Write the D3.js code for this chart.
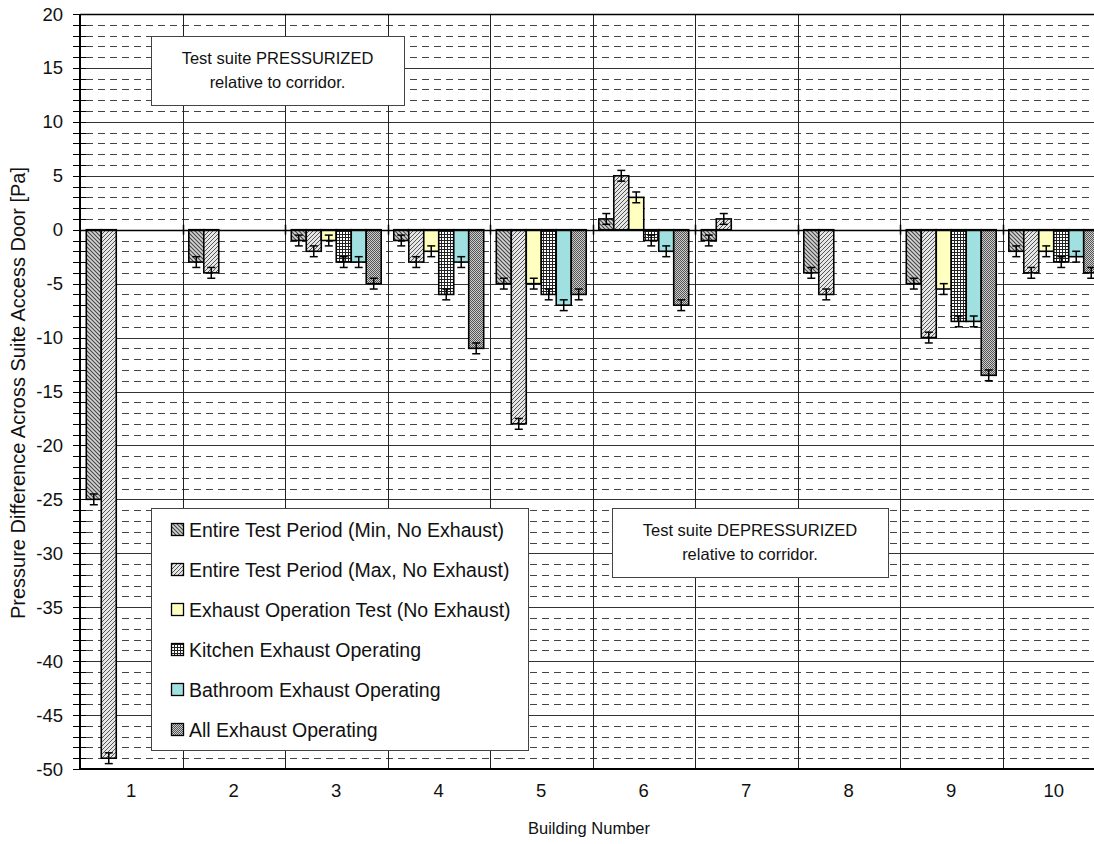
<!DOCTYPE html>
<html>
<head>
<meta charset="utf-8">
<script src="https://cdn.jsdelivr.net/npm/d3@7"></script>
<style>
  body { margin: 0; background: #fff; }
  svg { display: block; font-family: "Liberation Sans", Arial, sans-serif; }
</style>
</head>
<body>
<svg id="chart"></svg>
<script>
// Data
const buildings = ["1", "2", "3", "4", "5", "6", "7", "8", "9", "10"];
const seriesNames = [
    "Entire Test Period (Min, No Exhaust)",
    "Entire Test Period (Max, No Exhaust)",
    "Exhaust Operation Test (No Exhaust)",
    "Kitchen Exhaust Operating",
    "Bathroom Exhaust Operating",
    "All Exhaust Operating"
];
const minNoExhaust = [-25, -3, -1, -1, -5, 1, -1, -4, -5, -2];
const maxNoExhaust = [-49, -4, -2, -3, -18, 5, 1, -6, -10, -4];
const exhaustTest = [null, null, -1, -2, -5, 3, null, null, -5.5, -2];
const kitchenExhaust = [null, null, -3, -6, -6, -1, null, null, -8.5, -3];
const bathroomExhaust = [null, null, -3, -3, -7, -2, null, null, -8.5, -2.5];
const allExhaust = [null, null, -5, -11, -6, -7, null, null, -13.5, -4];
const errorHalf = 0.5;
const yTicks = [20, 15, 10, 5, 0, -5, -10, -15, -20, -25, -30, -35, -40, -45, -50];

const seriesValues = [minNoExhaust, maxNoExhaust, exhaustTest, kitchenExhaust, bathroomExhaust, allExhaust];
const fills = ["url(#hatchMin)", "url(#hatchMax)", "#ffffc0", "url(#grid)", "#a0e0e0", "url(#dots)"];

const width = 1094, height = 844;
const margin = { left: 80, top: 14, right: 1105, bottom: 769 };

const svg = d3.select("#chart")
    .attr("width", width)
    .attr("height", height);

// Patterns
const defs = svg.append("defs");

const hatchMin = defs.append("pattern")
    .attr("id", "hatchMin").attr("width", 4).attr("height", 4)
    .attr("patternUnits", "userSpaceOnUse");
hatchMin.append("rect").attr("width", 4).attr("height", 4).attr("fill", "#d4d4d4");
hatchMin.append("path").attr("d", "M-1,-1 L5,5 M-1,3 L1,5 M3,-1 L5,1")
    .attr("stroke", "#444").attr("stroke-width", 1.1);

const hatchMax = defs.append("pattern")
    .attr("id", "hatchMax").attr("width", 4).attr("height", 4)
    .attr("patternUnits", "userSpaceOnUse");
hatchMax.append("rect").attr("width", 4).attr("height", 4).attr("fill", "#e6e6e6");
hatchMax.append("path").attr("d", "M-1,5 L5,-1 M-1,1 L1,-1 M3,5 L5,3")
    .attr("stroke", "#555").attr("stroke-width", 1);

const grid = defs.append("pattern")
    .attr("id", "grid").attr("width", 3).attr("height", 3)
    .attr("patternUnits", "userSpaceOnUse");
grid.append("rect").attr("width", 3).attr("height", 3).attr("fill", "#fff");
grid.append("path").attr("d", "M0,0.5 H3 M0.5,0 V3")
    .attr("stroke", "#222").attr("stroke-width", 1);

const dots = defs.append("pattern")
    .attr("id", "dots").attr("width", 2).attr("height", 2)
    .attr("patternUnits", "userSpaceOnUse");
dots.append("rect").attr("width", 2).attr("height", 2).attr("fill", "#ccc");
dots.append("rect").attr("width", 1).attr("height", 1).attr("fill", "#555");
dots.append("rect").attr("x", 1).attr("y", 1).attr("width", 1).attr("height", 1).attr("fill", "#555");

// Scales
const x0 = d3.scaleBand()
    .domain(buildings)
    .range([margin.left, margin.right])
    .padding(0);

const x1 = d3.scaleBand()
    .domain(d3.range(seriesNames.length))
    .range([0, x0.bandwidth()])
    .paddingInner(0)
    .paddingOuter(0.42);

const y = d3.scaleLinear()
    .domain([-50, 20])
    .range([margin.bottom, margin.top]);

// Grid lines
const minorVals = d3.range(-50, 21, 1).filter(v => v % 5 !== 0);
svg.append("g")
    .selectAll("line")
    .data(minorVals)
    .join("line")
    .attr("x1", margin.left + 6)
    .attr("x2", margin.right)
    .attr("y1", d => Math.round(y(d)) + 0.5)
    .attr("y2", d => Math.round(y(d)) + 0.5)
    .attr("stroke", "#444")
    .attr("stroke-width", 1)
    .attr("stroke-dasharray", "7,5");

svg.append("g")
    .selectAll("line")
    .data(yTicks)
    .join("line")
    .attr("x1", margin.left)
    .attr("x2", margin.right)
    .attr("y1", d => Math.round(y(d)) + 0.5)
    .attr("y2", d => Math.round(y(d)) + 0.5)
    .attr("stroke", "#333")
    .attr("stroke-width", 1);

// vertical category separators
svg.append("g")
    .selectAll("line")
    .data(buildings.slice(1))
    .join("line")
    .attr("x1", d => Math.round(x0(d)) + 0.5)
    .attr("x2", d => Math.round(x0(d)) + 0.5)
    .attr("y1", margin.top)
    .attr("y2", margin.bottom)
    .attr("stroke", "#222")
    .attr("stroke-width", 1);

// Text boxes
function noteBox(x, yTop, w, h, lines) {
    const g = svg.append("g");
    g.append("rect")
        .attr("x", x + 0.5).attr("y", yTop + 0.5)
        .attr("width", w).attr("height", h)
        .attr("fill", "#fff").attr("stroke", "#444").attr("stroke-width", 1);
    g.selectAll("text")
        .data(lines)
        .join("text")
        .attr("x", x + w / 2)
        .attr("y", (d, i) => yTop + 28 + i * 24)
        .attr("text-anchor", "middle")
        .attr("font-size", 16.5)
        .attr("fill", "#111")
        .text(d => d);
}

// Bars
const barData = [];
buildings.forEach((b, i) => {
    seriesValues.forEach((vals, s) => {
        if (vals[i] !== null) barData.push({ building: b, series: s, value: vals[i] });
    });
});

const bars = svg.append("g");
bars.selectAll("rect")
    .data(barData)
    .join("rect")
    .attr("x", d => x0(d.building) + x1(d.series))
    .attr("width", x1.bandwidth())
    .attr("y", d => y(Math.max(0, d.value)))
    .attr("height", d => Math.abs(y(d.value) - y(0)))
    .attr("fill", d => fills[d.series])
    .attr("stroke", "#000")
    .attr("stroke-width", 1.6);

// Error bars
const err = svg.append("g").attr("stroke", "#000").attr("stroke-width", 1.5);
barData.forEach(d => {
    const cx = x0(d.building) + x1(d.series) + x1.bandwidth() / 2;
    const yHi = y(d.value + errorHalf), yLo = y(d.value - errorHalf);
    err.append("line").attr("x1", cx).attr("x2", cx).attr("y1", yHi).attr("y2", yLo);
    err.append("line").attr("x1", cx - 4).attr("x2", cx + 4).attr("y1", yHi).attr("y2", yHi);
    err.append("line").attr("x1", cx - 4).attr("x2", cx + 4).attr("y1", yLo).attr("y2", yLo);
});

// Axes
const yAxis = svg.append("g");
yAxis.selectAll("line.tick")
    .data(d3.range(-50, 21, 1))
    .join("line")
    .attr("x1", margin.left - 7)
    .attr("x2", margin.left + 6)
    .attr("y1", d => Math.round(y(d)) + 0.5)
    .attr("y2", d => Math.round(y(d)) + 0.5)
    .attr("stroke", "#000");
yAxis.append("line")
    .attr("x1", margin.left).attr("x2", margin.left)
    .attr("y1", margin.top).attr("y2", margin.bottom)
    .attr("stroke", "#000").attr("stroke-width", 2);
yAxis.selectAll("text")
    .data(yTicks)
    .join("text")
    .attr("x", margin.left - 17)
    .attr("y", d => y(d) + 6.5)
    .attr("text-anchor", "end")
    .attr("font-size", 18.5)
    .attr("fill", "#111")
    .text(d => d);

// zero line and borders
svg.append("line")
    .attr("x1", margin.left).attr("x2", margin.right)
    .attr("y1", Math.round(y(0)) + 0.5).attr("y2", Math.round(y(0)) + 0.5)
    .attr("stroke", "#000").attr("stroke-width", 1.5);
svg.append("g")
    .selectAll("line")
    .data(buildings.slice(1))
    .join("line")
    .attr("x1", d => Math.round(x0(d)) + 0.5)
    .attr("x2", d => Math.round(x0(d)) + 0.5)
    .attr("y1", y(0) - 5).attr("y2", y(0) + 5)
    .attr("stroke", "#000").attr("stroke-width", 1.5);
svg.append("line")
    .attr("x1", margin.left).attr("x2", margin.right)
    .attr("y1", margin.bottom).attr("y2", margin.bottom)
    .attr("stroke", "#000").attr("stroke-width", 2);
svg.append("line")
    .attr("x1", margin.left).attr("x2", margin.right)
    .attr("y1", margin.top + 0.5).attr("y2", margin.top + 0.5)
    .attr("stroke", "#000").attr("stroke-width", 1.5);

svg.append("g")
    .selectAll("text")
    .data(buildings)
    .join("text")
    .attr("x", d => x0(d) + x0.bandwidth() / 2)
    .attr("y", 797)
    .attr("text-anchor", "middle")
    .attr("font-size", 18.5)
    .attr("fill", "#111")
    .text(d => d);

// Axis titles
svg.append("text")
    .attr("x", 589)
    .attr("y", 834)
    .attr("text-anchor", "middle")
    .attr("font-size", 16.5)
    .attr("fill", "#111")
    .text("Building Number");

svg.append("text")
    .attr("transform", "translate(25," + 393 + ") rotate(-90)")
    .attr("text-anchor", "middle")
    .attr("font-size", 20)
    .attr("fill", "#111")
    .text("Pressure Difference Across Suite Access Door [Pa]");

// Note boxes drawn over the grid
noteBox(151, 36, 253, 69, ["Test suite PRESSURIZED", "relative to corridor."]);
noteBox(612, 508, 276, 69, ["Test suite DEPRESSURIZED", "relative to corridor."]);

// Legend
const legend = svg.append("g");
legend.append("rect")
    .attr("x", 151.5).attr("y", 508.5)
    .attr("width", 377).attr("height", 242)
    .attr("fill", "#fff").attr("stroke", "#444").attr("stroke-width", 1);
const items = legend.selectAll("g")
    .data(seriesNames)
    .join("g")
    .attr("transform", (d, i) => "translate(171," + (530 + i * 40) + ")");
items.append("rect")
    .attr("x", 0.5).attr("y", -6.5)
    .attr("width", 12).attr("height", 12)
    .attr("fill", (d, i) => fills[i])
    .attr("stroke", "#000").attr("stroke-width", 1.3);
items.append("text")
    .attr("x", 18)
    .attr("y", 7)
    .attr("font-size", 19.5)
    .attr("fill", "#111")
    .text(d => d);
</script>
</body>
</html>
